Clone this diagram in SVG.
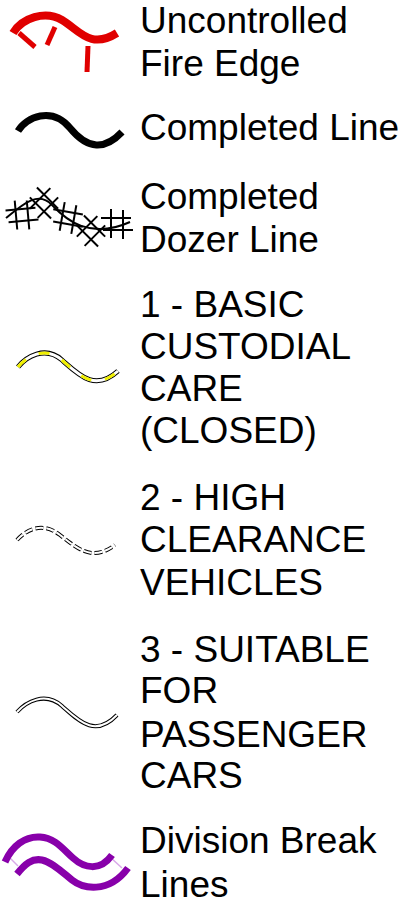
<svg xmlns="http://www.w3.org/2000/svg" width="419" height="909" viewBox="0 0 419 909">
<style>
text{font-family:"Liberation Sans",Arial,sans-serif;font-size:37px;fill:#000}
.w{fill:none;stroke-linecap:butt}
.hash line{stroke:#000;stroke-width:2}
</style>
<defs>
<g id="hash" class="hash">
<line x1="-16" y1="-6" x2="14" y2="-6"/>
<line x1="-14" y1="6" x2="16" y2="6"/>
<line x1="-6" y1="-15" x2="-6" y2="14"/>
<line x1="6" y1="-14" x2="6" y2="15"/>
</g>
</defs>
<rect width="419" height="909" fill="#fff"/>

<g id="fire-edge">
<path class="w" d="M13,33 C22,18 45,10 62,20 S90,50 117,33" stroke="#e00000" stroke-width="8"/>
<line x1="19" y1="33" x2="35" y2="47" stroke="#e00000" stroke-width="5"/>
<line x1="55" y1="27" x2="47" y2="45" stroke="#e00000" stroke-width="5"/>
<line x1="88" y1="46" x2="87" y2="72" stroke="#e00000" stroke-width="5"/>
<text x="140" y="33">Uncontrolled</text>
<text x="140" y="76">Fire Edge</text>
</g>

<g id="completed-line">
<path class="w" d="M18,131 C26,117 52,106 70,128 S105,150 122,132" stroke="#000" stroke-width="7"/>
<text x="140" y="140">Completed Line</text>
</g>

<g id="dozer-line">
<path class="w" d="M6,218 C22,205 38,190 52,205 S90,240 130,222" stroke="#000" stroke-width="2"/>
<use href="#hash" transform="translate(22,215) rotate(-5)"/>
<use href="#hash" transform="translate(44,203) rotate(45)"/>
<use href="#hash" transform="translate(68,218) rotate(10)"/>
<use href="#hash" transform="translate(91,231) rotate(45)"/>
<use href="#hash" transform="translate(117,224) rotate(0)"/>
<text x="140" y="209">Completed</text>
<text x="140" y="252">Dozer Line</text>
</g>

<g id="basic-custodial">
<path class="w" d="M18,367 C26,357 45,345 62,360 S95,392 118,371" stroke="#000" stroke-width="5"/>
<path class="w" d="M18,367 C26,357 45,345 62,360 S95,392 118,371" stroke="#fff" stroke-width="3"/>
<path class="w" d="M18,367 C26,357 45,345 62,360 S95,392 118,371" stroke="#f0f000" stroke-width="3" stroke-dasharray="11 14"/>
<text x="140" y="317">1 - BASIC</text>
<text x="140" y="359">CUSTODIAL</text>
<text x="140" y="401">CARE</text>
<text x="140" y="443">(CLOSED)</text>
</g>

<g id="high-clearance">
<path class="w" d="M17,540 C26,530 42,521 60,535 S92,562 115,545" stroke="#000" stroke-width="4" stroke-dasharray="8 3"/>
<path class="w" d="M17,540 C26,530 42,521 60,535 S92,562 115,545" stroke="#fff" stroke-width="2" stroke-dasharray="8 3"/>
<text x="140" y="510">2 - HIGH</text>
<text x="140" y="552">CLEARANCE</text>
<text x="140" y="595">VEHICLES</text>
</g>

<g id="passenger-cars">
<path class="w" d="M17,712 C26,702 45,691 62,706 S95,738 117,715" stroke="#000" stroke-width="4"/>
<path class="w" d="M17,712 C26,702 45,691 62,706 S95,738 117,715" stroke="#fff" stroke-width="2"/>
<text x="140" y="662">3 - SUITABLE</text>
<text x="140" y="703">FOR</text>
<text x="140" y="747">PASSENGER</text>
<text x="140" y="788">CARS</text>
</g>

<g id="division-break">
<line x1="10" y1="858" x2="18" y2="866" stroke="#d8a8e8" stroke-width="1.5"/>
<line x1="110" y1="857" x2="122" y2="868" stroke="#d8a8e8" stroke-width="1.5"/>
<path class="w" d="M5,862 C12,846 25,836 40,837 S62,848 73,858 S100,872 112,855" stroke="#8800aa" stroke-width="7"/>
<path class="w" d="M17,874 C25,864 32,858 42,860 S62,872 72,880 S108,895 128,868" stroke="#8800aa" stroke-width="7"/>
<text x="140" y="853">Division Break</text>
<text x="140" y="897">Lines</text>
</g>
</svg>
